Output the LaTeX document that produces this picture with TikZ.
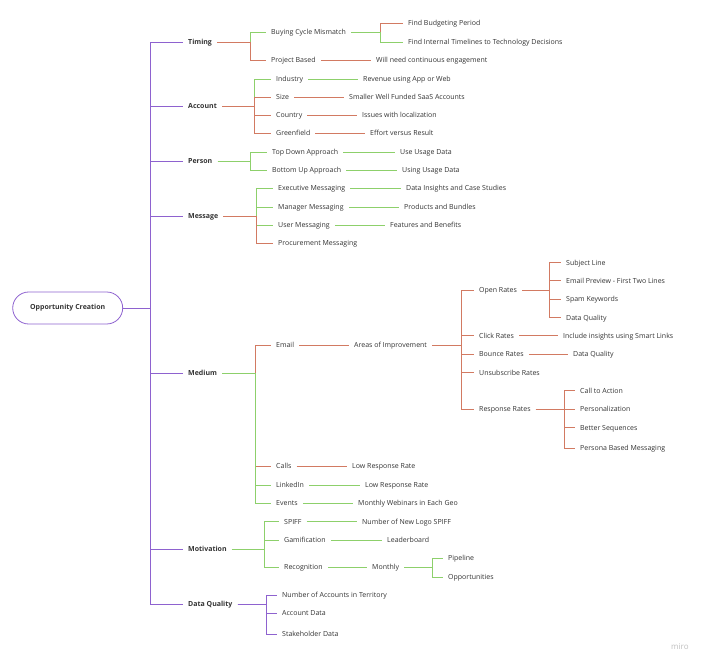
\documentclass[tikz,border=0pt]{standalone}
\usepackage{fontspec}
\setmainfont{Open Sans}
\definecolor{cP}{HTML}{8E62CF}
\definecolor{cO}{HTML}{D27A62}
\definecolor{cG}{HTML}{8DD06B}
\definecolor{txt}{HTML}{333333}
\tikzset{
  t/.style={anchor=west,inner xsep=5pt,inner ysep=0pt,text height=6pt,text depth=1.3pt,font=\fontsize{7}{8}\selectfont,text=txt},
  tb/.style={t,font=\fontsize{7}{8}\selectfont\bfseries},
  ln/.style={line width=0.8pt},
  P/.style={ln,draw=cP},
  O/.style={ln,draw=cO},
  G/.style={ln,draw=cG},
  root/.style={draw=cP,line width=0.8pt,rounded corners=16pt,minimum width=110pt,minimum height=32pt,inner sep=0pt,font=\fontsize{7}{8}\selectfont\bfseries,text=txt}
}
\begin{document}
\begin{tikzpicture}[x=1pt,y=-1pt]
\useasboundingbox (0,0) rectangle (710,668);
% root
\node[root] (root) at (67.7,308) {Opportunity Creation};
\coordinate (jR) at (150,308);
% level 1
\node[tb] (tim) at (183,42) {Timing};
\node[tb] (acc) at (183,106) {Account};
\node[tb] (per) at (183,161) {Person};
\node[tb] (msg) at (183,216) {Message};
\node[tb] (med) at (183,373) {Medium};
\node[tb] (mot) at (183,549) {Motivation};
\node[tb] (dq) at (183,604) {Data Quality};
\foreach \c in {tim,acc,per,msg,med,mot,dq}{\draw[P] (root.east) -- (jR) |- (\c.west);}
% Timing
\coordinate (jT) at (250,42);
\node[t] (bcm) at (266,32) {Buying Cycle Mismatch};
\node[t] (pb) at (266,60) {Project Based};
\draw[G] (tim.east) -- (jT) |- (bcm.west);
\draw[O] (tim.east) -- (jT) |- (pb.west);
\coordinate (jB) at (380,32);
\node[t] (fbp) at (403,23) {Find Budgeting Period};
\node[t] (fit) at (403,42) {Find Internal Timelines to Technology Decisions};
\draw[O] (bcm.east) -- (jB) |- (fbp.west);
\draw[G] (bcm.east) -- (jB) |- (fit.west);
\node[t] (wnc) at (371,60) {Will need continuous engagement};
\draw[O] (pb.east) -- (wnc.west);
% Account
\coordinate (jA) at (254,106);
\node[t] (ind) at (271,79) {Industry};
\node[t] (siz) at (271,97) {Size};
\node[t] (cty) at (271,115.5) {Country};
\node[t] (grf) at (271,133.5) {Greenfield};
\draw[G] (acc.east) -- (jA) |- (ind.west);
\draw[O] (acc.east) -- (jA) |- (siz.west);
\draw[O] (acc.east) -- (jA) |- (cty.west);
\draw[O] (acc.east) -- (jA) |- (grf.west);
\node[t] (rev) at (358,79) {Revenue using App or Web};
\node[t] (swf) at (344,97) {Smaller Well Funded SaaS Accounts};
\node[t] (iwl) at (357,115.5) {Issues with localization};
\node[t] (evr) at (365,133.5) {Effort versus Result};
\draw[G] (ind.east) -- (rev.west);
\draw[O] (siz.east) -- (swf.west);
\draw[O] (cty.east) -- (iwl.west);
\draw[O] (grf.east) -- (evr.west);
% Person
\coordinate (jPe) at (250,161);
\node[t] (tda) at (267,152) {Top Down Approach};
\node[t] (bua) at (267,170.5) {Bottom Up Approach};
\draw[G] (per.east) -- (jPe) |- (tda.west);
\draw[G] (per.east) -- (jPe) |- (bua.west);
\node[t] (uud) at (395,152) {Use Usage Data};
\node[t] (usd) at (397,170.5) {Using Usage Data};
\draw[G] (tda.east) -- (uud.west);
\draw[G] (bua.east) -- (usd.west);
% Message
\coordinate (jM) at (256,216);
\node[t] (exm) at (273,188.5) {Executive Messaging};
\node[t] (mam) at (273,207) {Manager Messaging};
\node[t] (usm) at (273,225) {User Messaging};
\node[t] (prm) at (273,243.5) {Procurement Messaging};
\draw[G] (msg.east) -- (jM) |- (exm.west);
\draw[G] (msg.east) -- (jM) |- (mam.west);
\draw[G] (msg.east) -- (jM) |- (usm.west);
\draw[O] (msg.east) -- (jM) |- (prm.west);
\node[t] (dic) at (401,188.5) {Data Insights and Case Studies};
\node[t] (pab) at (399,207) {Products and Bundles};
\node[t] (fab) at (385,225) {Features and Benefits};
\draw[G] (exm.east) -- (dic.west);
\draw[G] (mam.east) -- (pab.west);
\draw[G] (usm.east) -- (fab.west);
% Medium
\coordinate (jMe) at (255,373);
\node[t] (eml) at (271,345) {Email};
\node[t] (cal) at (271,466.5) {Calls};
\node[t] (lin) at (271,485) {LinkedIn};
\node[t] (evt) at (271,503.3) {Events};
\draw[O] (med.east) -- (jMe) |- (eml.west);
\draw[O] (med.east) -- (jMe) |- (cal.west);
\draw[G] (med.east) -- (jMe) |- (lin.west);
\draw[G] (med.east) -- (jMe) |- (evt.west);
\node[t] (aoi) at (349,345) {Areas of Improvement};
\draw[O] (eml.east) -- (aoi.west);
\coordinate (jAo) at (461,345);
\node[t] (opr) at (474,290) {Open Rates};
\node[t] (clr) at (474,335.7) {Click Rates};
\node[t] (bor) at (474,354) {Bounce Rates};
\node[t] (unr) at (474,372.7) {Unsubscribe Rates};
\node[t] (rer) at (474,409.3) {Response Rates};
\foreach \c in {opr,clr,bor,unr,rer}{\draw[O] (aoi.east) -- (jAo) |- (\c.west);}
\coordinate (jOp) at (549,290);
\node[t] (sjl) at (561,262.7) {Subject Line};
\node[t] (epf) at (561,280.7) {Email Preview - First Two Lines};
\node[t] (spk) at (561,299) {Spam Keywords};
\node[t] (dq1) at (561,317.7) {Data Quality};
\foreach \c in {sjl,epf,spk,dq1}{\draw[O] (opr.east) -- (jOp) |- (\c.west);}
\node[t] (iis) at (558,335.7) {Include insights using Smart Links};
\node[t] (dq2) at (568,354) {Data Quality};
\draw[O] (clr.east) -- (iis.west);
\draw[O] (bor.east) -- (dq2.west);
\coordinate (jRe) at (564,409.3);
\node[t] (cta) at (575,390.7) {Call to Action};
\node[t] (psn) at (575,409.3) {Personalization};
\node[t] (bse) at (575,427.7) {Better Sequences};
\node[t] (pbm) at (575,448.3) {Persona Based Messaging};
\foreach \c in {cta,psn,bse,pbm}{\draw[O] (rer.east) -- (jRe) |- (\c.west);}
\node[t] (lr1) at (347,466.5) {Low Response Rate};
\node[t] (lr2) at (360,485) {Low Response Rate};
\node[t] (mwe) at (353,503.3) {Monthly Webinars in Each Geo};
\draw[O] (cal.east) -- (lr1.west);
\draw[G] (lin.east) -- (lr2.west);
\draw[G] (evt.east) -- (mwe.west);
% Motivation
\coordinate (jMo) at (264,549);
\node[t] (spf) at (279,521.7) {SPIFF};
\node[t] (gam) at (279,540) {Gamification};
\node[t] (rec) at (279,567.3) {Recognition};
\foreach \c in {spf,gam,rec}{\draw[G] (mot.east) -- (jMo) |- (\c.west);}
\node[t] (nnl) at (357,521.7) {Number of New Logo SPIFF};
\node[t] (ldb) at (382,540) {Leaderboard};
\node[t] (mth) at (367,567.3) {Monthly};
\draw[G] (spf.east) -- (nnl.west);
\draw[G] (gam.east) -- (ldb.west);
\draw[G] (rec.east) -- (mth.west);
\coordinate (jMt) at (432,567.3);
\node[t] (ppl) at (443,558) {Pipeline};
\node[t] (opp) at (443,577) {Opportunities};
\draw[G] (mth.east) -- (jMt) |- (ppl.west);
\draw[G] (mth.east) -- (jMt) |- (opp.west);
% Data Quality
\coordinate (jD) at (266,604);
\node[t] (nat) at (277,595) {Number of Accounts in Territory};
\node[t] (acd) at (277,613.3) {Account Data};
\node[t] (shd) at (277,634) {Stakeholder Data};
\foreach \c in {nat,acd,shd}{\draw[P] (dq.east) -- (jD) |- (\c.west);}
% watermark
\node[anchor=west,inner sep=0pt,font=\fontsize{8}{9}\selectfont,text=black!25] (miro) at (671,647) {miro};
\end{tikzpicture}
\end{document}
